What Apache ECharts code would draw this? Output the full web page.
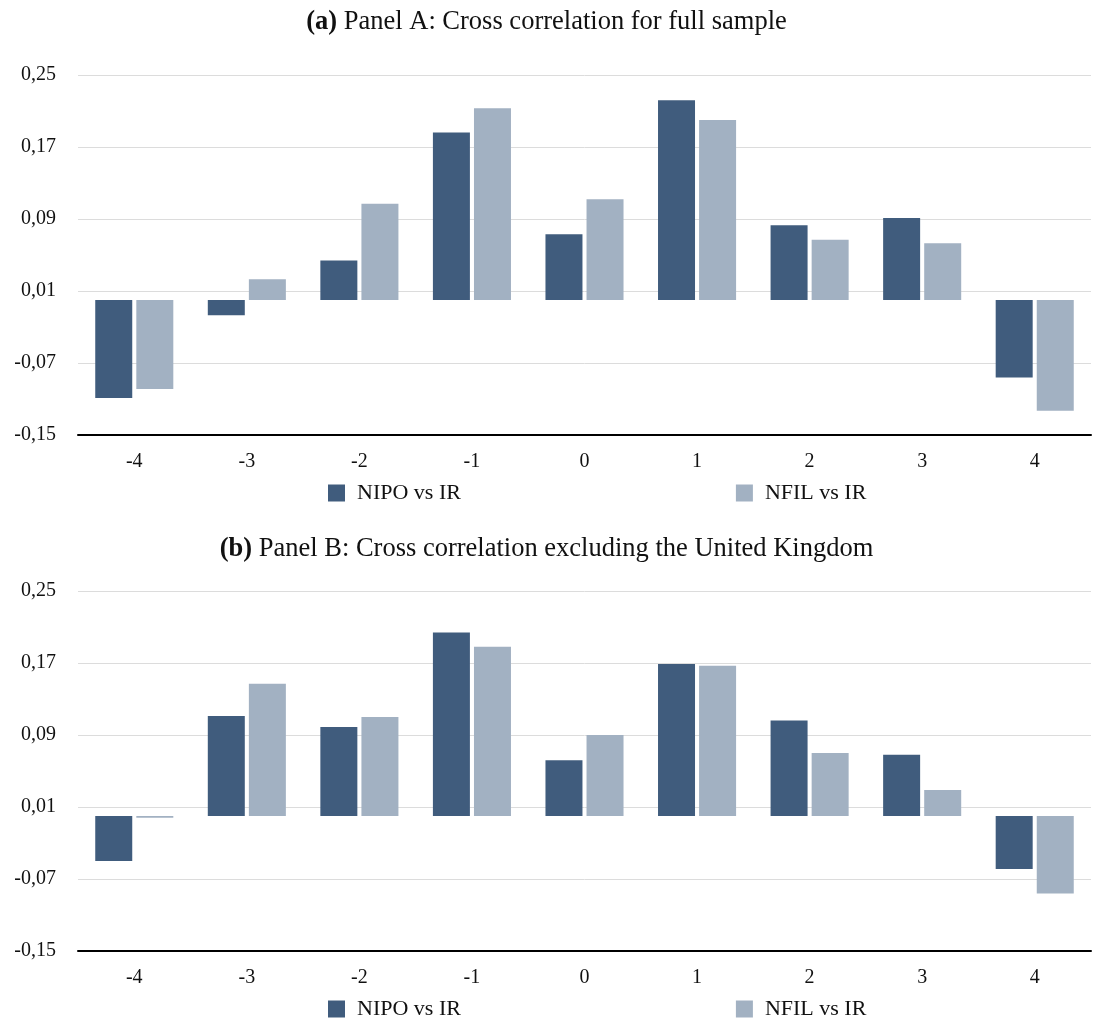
<!DOCTYPE html>
<html>
<head>
<meta charset="utf-8">
<script src="https://cdn.jsdelivr.net/npm/echarts@6/dist/echarts.min.js"></script>
<style>
html,body{margin:0;padding:0;background:#fff;}
#c{width:1093px;height:1022px;}
</style>
</head>
<body>
<div id="c"></div>
<script>
const categories = ['-4','-3','-2','-1','0','1','2','3','4'];
const panelA_NIPO = [-0.109,-0.017,0.044,0.186,0.073,0.222,0.083,0.091,-0.086];
const panelA_NFIL = [-0.099,0.023,0.107,0.213,0.112,0.200,0.067,0.063,-0.123];
const panelB_NIPO = [-0.050,0.111,0.099,0.204,0.062,0.169,0.106,0.068,-0.059];
const panelB_NFIL = [-0.002,0.147,0.110,0.188,0.090,0.167,0.070,0.029,-0.086];
const seriesNames = ['NIPO vs IR','NFIL vs IR'];
const titleA = ['(a)', 'Panel A: Cross correlation for full sample'];
const titleB = ['(b)', 'Panel B: Cross correlation excluding the United Kingdom'];
const yMin = -0.15, yMax = 0.25, yStep = 0.08;

const FONT = 'Liberation Serif';
const DARK = '#405c7d';
const LIGHT = '#a2b1c2';

function yAxis(gi){
  return {
    type:'value', gridIndex:gi, min:yMin, max:yMax, interval:yStep,
    axisLine:{show:false}, axisTick:{show:false},
    axisLabel:{margin:22, fontFamily:FONT, fontSize:20, color:'#111',
      formatter:v=>v.toFixed(2).replace('.',',')},
    splitLine:{lineStyle:{color:'#dcdcdc', width:1}}
  };
}
function xAxis(gi){
  return {
    type:'category', gridIndex:gi, data:categories, position:'bottom',
    axisLine:{onZero:false, lineStyle:{color:'#000', width:2}},
    axisTick:{show:false},
    axisLabel:{margin:17, fontFamily:FONT, fontSize:20, color:'#111'}
  };
}
function bars(name, data, color, gi){
  return {
    type:'bar', name:name, data:data, xAxisIndex:gi, yAxisIndex:gi,
    barWidth:37, barGap:'11%',
    itemStyle:{color:color}, emphasis:{disabled:true}
  };
}
function title(t, top){
  return {
    text:'{b|'+t[0]+'} '+t[1], left:'center', top:top, padding:[5,5,5,18],
    textStyle:{fontFamily:FONT, fontSize:26.5, fontWeight:'normal', color:'#111',
      rich:{b:{fontFamily:FONT, fontSize:26.5, fontWeight:'bold', color:'#111'}}}
  };
}
function legend(top){
  return {
    top:top, left:323, itemWidth:17, itemHeight:17, itemGap:275,
    icon:'rect', data:seriesNames, selectedMode:false,
    textStyle:{fontFamily:FONT, fontSize:22, color:'#111', padding:[0,0,0,7]}
  };
}

const chart = echarts.init(document.getElementById('c'), null, {renderer:'canvas'});
chart.setOption({
  animation:false,
  backgroundColor:'#fff',
  title:[title(titleA, 4), title(titleB, 531)],
  legend:[legend(477), legend(993)],
  grid:[
    {left:78, right:2, top:75, height:360},
    {left:78, right:2, top:591, height:360}
  ],
  xAxis:[xAxis(0), xAxis(1)],
  yAxis:[yAxis(0), yAxis(1)],
  series:[
    bars(seriesNames[0], panelA_NIPO, DARK, 0),
    bars(seriesNames[1], panelA_NFIL, LIGHT, 0),
    bars(seriesNames[0], panelB_NIPO, DARK, 1),
    bars(seriesNames[1], panelB_NFIL, LIGHT, 1)
  ]
});
</script>
</body>
</html>
